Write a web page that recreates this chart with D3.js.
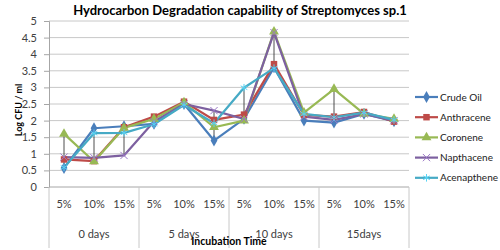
<!DOCTYPE html>
<html>
<head>
<meta charset="utf-8">
<script src="https://cdn.jsdelivr.net/npm/d3@7"></script>
<style>
  body { margin: 0; background: #fff; }
  text { font-family: Lato, "Open Sans", sans-serif; }
</style>
</head>
<body>
<div id="chart"></div>
<script>
// chart data
const groups = ["0 days", "5 days", "10 days", "15days"];
const levels = ["5%", "10%", "15%"];
const seriesNames = ["Crude Oil", "Anthracene", "Coronene", "Napthacene", "Acenapthene"];
const crudeOil    = [0.57, 1.77, 1.83, 1.90, 2.50, 1.40, 2.05, 3.60, 2.00, 1.94, 2.20, 1.98];
const anthracene  = [0.83, 0.78, 1.80, 2.12, 2.57, 2.02, 2.18, 3.70, 2.17, 2.12, 2.26, 1.97];
const coronene    = [1.60, 0.77, 1.78, 2.05, 2.55, 1.80, 2.00, 4.68, 2.24, 2.95, 2.20, 2.05];
const napthacene  = [0.90, 0.88, 0.95, 1.97, 2.50, 2.30, 2.05, 4.65, 2.12, 2.02, 2.20, 2.00];
const acenapthene = [0.59, 1.62, 1.63, 1.89, 2.47, 1.92, 2.99, 3.58, 2.20, 2.10, 2.24, 2.02];
const yTicks = [0, 0.5, 1, 1.5, 2, 2.5, 3, 3.5, 4, 4.5, 5];

const colors = ["#4a7ebb", "#be4b48", "#98b954", "#7d60a0", "#46aac5"];
const symbols = [d3.symbolDiamond, d3.symbolSquare, d3.symbolTriangle, d3.symbolX, d3.symbolAsterisk];
const symSize = [40, 42, 42, 36, 40];

const width = 500, height = 250;
const margin = { top: 21, right: 91, bottom: 63, left: 49 };
const plotW = width - margin.left - margin.right,
  plotH = height - margin.top - margin.bottom;

const cats = [];
groups.forEach(g => levels.forEach(l => cats.push(g + "|" + l)));
const allSeries = [crudeOil, anthracene, coronene, napthacene, acenapthene];

const svg = d3.select("#chart").append("svg")
  .attr("width", width).attr("height", height);

const g = svg.append("g").attr("transform", `translate(${margin.left},${margin.top})`);

const x = d3.scaleBand().domain(cats).range([0, plotW]);
const xg = d3.scaleBand().domain(groups).range([0, plotW]);
const y = d3.scaleLinear().domain([0, 5]).range([plotH, 0]);

// gridlines
g.append("g").selectAll("line").data(yTicks.filter(d => d > 0)).join("line")
  .attr("x1", 0).attr("x2", plotW)
  .attr("y1", d => y(d)).attr("y2", d => y(d))
  .attr("stroke", "#c8c8c8").attr("stroke-width", 1);

// y axis
const yAxis = g.append("g").call(d3.axisLeft(y).tickValues(yTicks).tickSize(5).tickPadding(7).tickFormat(d3.format("")));
yAxis.select(".domain").attr("stroke", "#a6a6a6");
yAxis.selectAll(".tick line").attr("stroke", "#a6a6a6");
yAxis.selectAll("text").attr("font-size", 11).attr("fill", "#404040");

// x axis (two levels)
g.append("line").attr("x1", 0).attr("x2", plotW).attr("y1", plotH).attr("y2", plotH)
  .attr("stroke", "#a6a6a6");
const xAxis = g.append("g").attr("transform", `translate(0,${plotH})`)
  .call(d3.axisBottom(x).tickSize(0).tickPadding(13).tickFormat(d => d.split("|")[1]));
xAxis.select(".domain").remove();
xAxis.selectAll("text").attr("font-size", 11).attr("fill", "#404040");

g.append("g").selectAll("line").data(d3.range(groups.length + 1)).join("line")
  .attr("x1", d => d * xg.step()).attr("x2", d => d * xg.step())
  .attr("y1", plotH).attr("y2", plotH + 61)
  .attr("stroke", "#c8c8c8");

g.append("g").selectAll("text").data(groups).join("text")
  .attr("x", d => xg(d) + xg.bandwidth() / 2)
  .attr("y", plotH + 51)
  .attr("text-anchor", "middle")
  .attr("font-size", 11).attr("fill", "#404040")
  .text(d => d);

// high-low lines
g.append("g").selectAll("line").data(cats).join("line")
  .attr("x1", d => x(d) + x.bandwidth() / 2).attr("x2", d => x(d) + x.bandwidth() / 2)
  .attr("y1", (d, i) => y(d3.max(allSeries, s => s[i])))
  .attr("y2", (d, i) => y(d3.min(allSeries, s => s[i])))
  .attr("stroke", "#222").attr("stroke-width", 0.8);

// series lines and markers
const line = d3.line().x((d, i) => x(cats[i]) + x.bandwidth() / 2).y(d => y(d));
allSeries.forEach((s, k) => {
  g.append("path").datum(s)
    .attr("fill", "none").attr("stroke", colors[k]).attr("stroke-width", 2.2)
    .attr("stroke-linejoin", "round")
    .attr("d", line);
});
allSeries.forEach((s, k) => {
  const stroke = k >= 3;
  g.append("g").selectAll("path").data(s).join("path")
    .attr("transform", (d, i) => `translate(${x(cats[i]) + x.bandwidth() / 2},${y(d)})`)
    .attr("d", d3.symbol().type(symbols[k]).size(symSize[k]))
    .attr("fill", stroke ? "none" : colors[k])
    .attr("stroke", stroke ? d3.color(colors[k]).brighter(0.6) : "none")
    .attr("stroke-width", 1);
});

// titles
svg.append("text").attr("x", 240).attr("y", 15).attr("text-anchor", "middle")
  .attr("font-size", 13).attr("font-weight", "bold").attr("fill", "#000")
  .text("Hydrocarbon Degradation capability of Streptomyces sp.1");

svg.append("text").attr("transform", "translate(22,110) rotate(-90)")
  .attr("text-anchor", "middle").attr("font-size", 9).attr("font-weight", "bold")
  .text("Log CFU / ml");

svg.append("text").attr("x", 229).attr("y", 245).attr("text-anchor", "middle")
  .attr("font-size", 10.5).attr("font-weight", "bold")
  .text("Incubation Time");

// legend
const legend = svg.append("g").attr("transform", "translate(415,97)");
seriesNames.forEach((n, k) => {
  const row = legend.append("g").attr("transform", `translate(0,${k * 20.2})`);
  row.append("line").attr("x1", 0).attr("x2", 23).attr("stroke", colors[k]).attr("stroke-width", 2.2);
  row.append("path").attr("transform", "translate(11.5,0)")
    .attr("d", d3.symbol().type(symbols[k]).size(symSize[k]))
    .attr("fill", k >= 3 ? "none" : colors[k])
    .attr("stroke", k >= 3 ? d3.color(colors[k]).brighter(0.6) : "none");
  row.append("text").attr("x", 25).attr("y", 3.5).attr("font-size", 10).attr("fill", "#222").text(n);
});
</script>
</body>
</html>
